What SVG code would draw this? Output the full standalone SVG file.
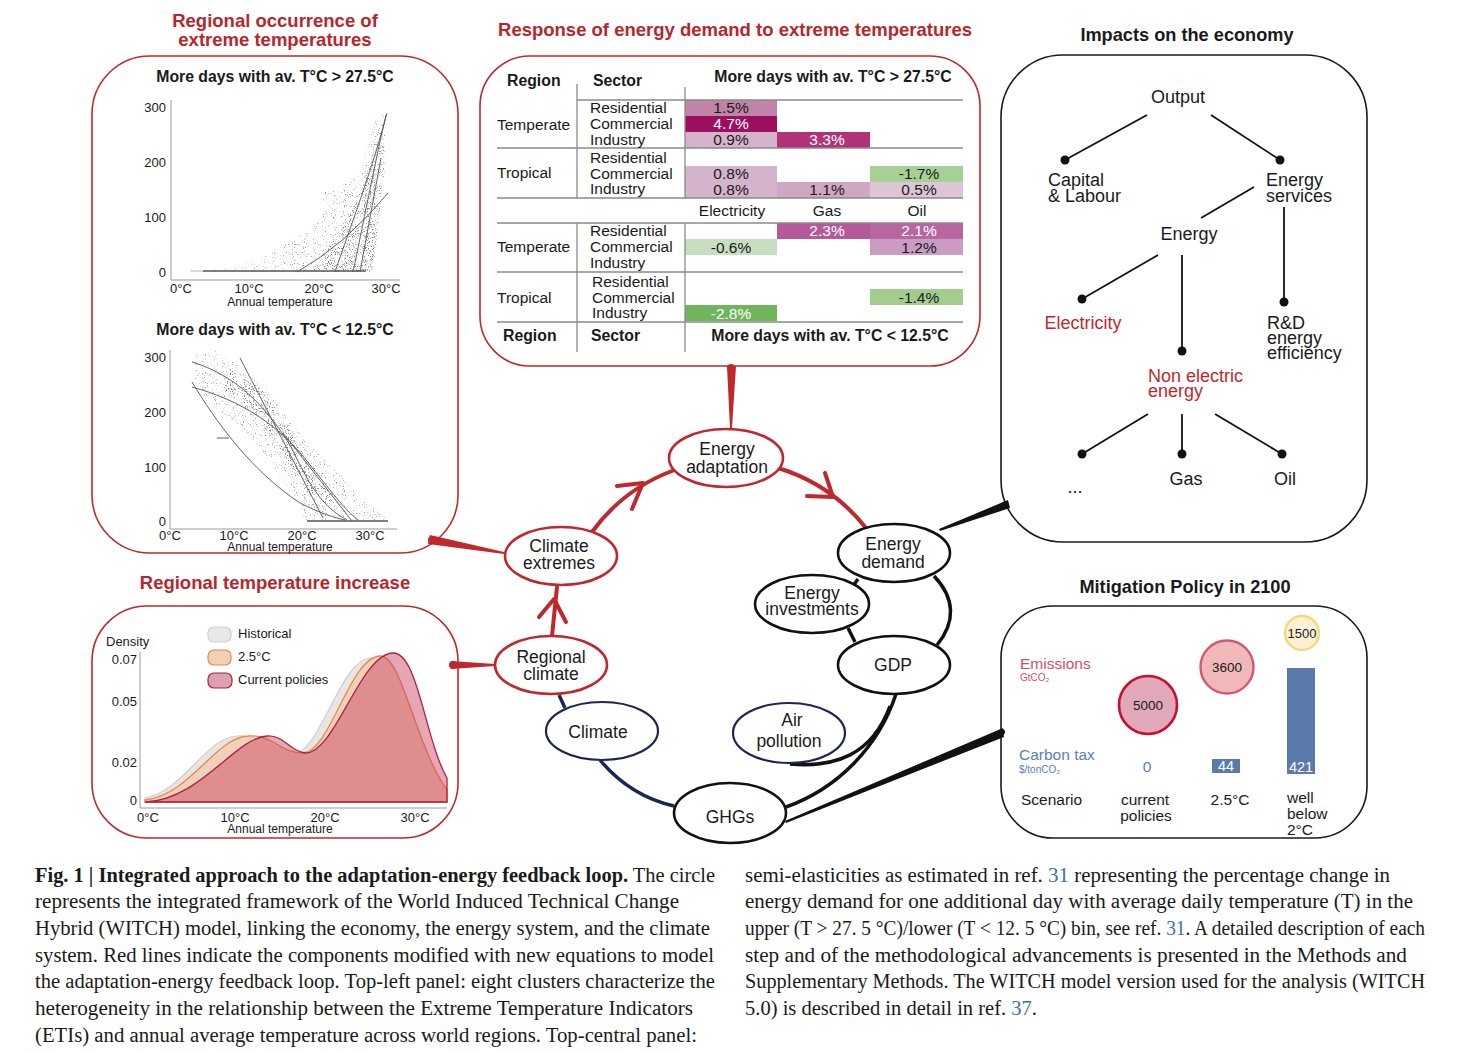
<svg xmlns="http://www.w3.org/2000/svg" width="1460" height="1053" viewBox="0 0 1460 1053">
<defs>
<style>
text{font-family:"Liberation Sans",Arial,sans-serif;fill:#1a1a1a}
.ttl{font-weight:bold;font-size:18.5px;fill:#b8262b;text-anchor:middle}
.ttlk{font-weight:bold;font-size:18.2px;text-anchor:middle}
.hd{font-weight:bold;font-size:15.8px}
.tk{font-size:13px}
.at{font-size:12px;text-anchor:middle}
.tb{font-size:15.5px}
.c{text-anchor:middle}
.w{fill:#fff}
.nd{font-size:17.5px;text-anchor:middle}
.ec{font-size:18px}
.rd{fill:#c0282d}
.cap{font-family:"Liberation Serif","Times New Roman",serif;font-size:20px}
.ref{fill:#3b6fb0}
.pr{fill:none;stroke:#c0282d;stroke-width:1.6}
.pk{fill:none;stroke:#1a1a1a;stroke-width:1.6}
.eR{fill:#fff;stroke:#c0282d;stroke-width:2.6}
.eK{fill:#fff;stroke:#111;stroke-width:2.6}
.eN{fill:#fff;stroke:#1c2656;stroke-width:2.2}
.cr{fill:none;stroke:#c0282d;stroke-width:4;stroke-linecap:round;stroke-linejoin:round}
.ck{fill:none;stroke:#111;stroke-width:3.5}
.cn{fill:none;stroke:#1c2656;stroke-width:3.5}
.ax{stroke:#9a9a9a;stroke-width:1;fill:none}
.fit{fill:none;stroke:#555;stroke-width:0.9}
.tl{stroke:#8a8a8a;stroke-width:1.3}
.tr{stroke:#111;stroke-width:1.8}
.cloud{fill:#000;filter:url(#speck)}
.cloud2{fill:#000;filter:url(#speck2)}
</style>
<filter id="speck" x="0" y="0" width="100%" height="100%" color-interpolation-filters="sRGB">
<feTurbulence type="fractalNoise" baseFrequency="0.9" numOctaves="1" seed="7" result="n"/>
<feColorMatrix in="n" type="matrix" values="0 0 0 0 0.6  0 0 0 0 0.6  0 0 0 0 0.6  8 0 0 0 -4.9" result="d"/>
<feComposite in="d" in2="SourceGraphic" operator="in"/>
</filter>
<filter id="speck2" x="0" y="0" width="100%" height="100%" color-interpolation-filters="sRGB">
<feTurbulence type="fractalNoise" baseFrequency="0.95" numOctaves="1" seed="19" result="n"/>
<feColorMatrix in="n" type="matrix" values="0 0 0 0 0.5  0 0 0 0 0.5  0 0 0 0 0.5  8 0 0 0 -4.6" result="d"/>
<feComposite in="d" in2="SourceGraphic" operator="in"/>
</filter>
</defs>
<rect width="1460" height="1053" fill="#fff"/>

<!-- Titles -->
<text class="ttl" x="275" y="27">Regional occurrence of</text>
<text class="ttl" x="275" y="46">extreme temperatures</text>
<text class="ttl" x="735" y="36">Response of energy demand to extreme temperatures</text>
<text class="ttlk" x="1187" y="41">Impacts on the economy</text>
<text class="ttl" x="275" y="589">Regional temperature increase</text>
<text class="ttlk" x="1185" y="593">Mitigation Policy in 2100</text>

<!-- Panel: regional occurrence -->
<g id="panel-occurrence">
<rect class="pr" x="92" y="56" width="366" height="497" rx="58"/>
<text class="hd c" x="275" y="82">More days with av. T°C &gt; 27.5°C</text>
<line class="ax" x1="171" y1="100" x2="171" y2="280"/>
<line class="ax" x1="171" y1="280" x2="400" y2="280"/>
<text class="tk" x="166" y="112" text-anchor="end">300</text>
<text class="tk" x="166" y="167" text-anchor="end">200</text>
<text class="tk" x="166" y="222" text-anchor="end">100</text>
<text class="tk" x="166" y="277" text-anchor="end">0</text>
<text class="tk c" x="181" y="293">0°C</text>
<text class="tk c" x="249" y="293">10°C</text>
<text class="tk c" x="319" y="293">20°C</text>
<text class="tk c" x="386" y="293">30°C</text>
<text class="at" x="280" y="306">Annual temperature</text>
<path class="cloud" d="M200,272 L230,267 260,259 280,249 300,234 318,221 330,205 322,199 326,190 345,184 360,174 368,146 375,118 383,112 387,140 383,190 377,240 373,272 Z"/>
<path class="cloud2" d="M310,272 L325,250 340,232 352,210 362,190 372,155 381,120 385,160 379,220 372,272 Z"/>
<line x1="203" y1="271" x2="366" y2="271" stroke="#555" stroke-width="2.2" opacity="0.75"/>
<line x1="190" y1="271" x2="203" y2="271" stroke="#999" stroke-width="1" opacity="0.7"/>
<path class="fit" d="M297,272 Q345,245 388,193"/>
<path class="fit" d="M335,272 C350,228 372,170 387,113"/>
<path class="fit" d="M353,272 C362,230 375,162 386,115"/>
<path class="fit" d="M360,272 L381,158"/>

<text class="hd c" x="275" y="335">More days with av. T°C &lt; 12.5°C</text>
<line class="ax" x1="170" y1="350" x2="170" y2="529"/>
<line class="ax" x1="170" y1="529" x2="397" y2="529"/>
<text class="tk" x="166" y="362" text-anchor="end">300</text>
<text class="tk" x="166" y="417" text-anchor="end">200</text>
<text class="tk" x="166" y="472" text-anchor="end">100</text>
<text class="tk" x="166" y="526" text-anchor="end">0</text>
<text class="tk c" x="170" y="540">0°C</text>
<text class="tk c" x="234" y="540">10°C</text>
<text class="tk c" x="302" y="540">20°C</text>
<text class="tk c" x="370" y="540">30°C</text>
<text class="at" x="280" y="551">Annual temperature</text>
<path class="cloud" d="M195,355 L215,350 235,363 255,378 270,394 290,420 305,440 325,460 345,480 362,500 380,512 390,520 305,522 300,505 290,490 275,470 262,450 245,430 225,415 205,400 195,385 Z"/>
<path class="cloud2" d="M230,368 L262,390 285,422 300,448 318,475 335,500 318,506 300,482 285,456 268,432 245,407 225,390 Z"/>
<line x1="307" y1="521" x2="388" y2="521" stroke="#555" stroke-width="2" opacity="0.75"/>
<line x1="217" y1="438" x2="229" y2="438" stroke="#777" stroke-width="1.2"/>
<path class="fit" d="M192,362 C235,375 265,405 290,445 C305,475 318,505 347,520"/>
<path class="fit" d="M192,387 C240,400 280,425 310,465 C330,490 345,510 358,520"/>
<path class="fit" d="M192,382 C215,420 250,470 300,503 C320,513 335,518 345,520"/>
<path class="fit" d="M240,358 L323,518"/>
<path class="fit" d="M283,433 L352,521"/>
</g>

<!-- Panel: response table -->
<g id="panel-response">
<rect class="pr" x="480" y="56" width="500" height="310" rx="50"/>
<text class="hd" x="507" y="86">Region</text>
<text class="hd" x="593" y="86">Sector</text>
<text class="hd c" x="833" y="82">More days with av. T°C &gt; 27.5°C</text>
<rect x="685" y="100" width="92" height="16" fill="#c084a8"/>
<rect x="685" y="116" width="92" height="16" fill="#9c0f5f"/>
<rect x="685" y="132" width="92" height="16" fill="#d6b3cb"/>
<rect x="777" y="132" width="93" height="16" fill="#b0337a"/>
<rect x="685" y="166" width="92" height="16" fill="#d4b4cc"/>
<rect x="685" y="182" width="92" height="16" fill="#d4b4cc"/>
<rect x="777" y="182" width="93" height="16" fill="#cfa6c4"/>
<rect x="870" y="166" width="93" height="16" fill="#a6d094"/>
<rect x="870" y="182" width="93" height="16" fill="#ddc5d7"/>
<rect x="777" y="223" width="93" height="16" fill="#b5599a"/>
<rect x="870" y="223" width="93" height="16" fill="#b8669f"/>
<rect x="685" y="239" width="92" height="16" fill="#c7dfc0"/>
<rect x="870" y="239" width="93" height="16" fill="#c99cc1"/>
<rect x="870" y="289" width="93" height="16" fill="#a2cd8f"/>
<rect x="685" y="305" width="92" height="16" fill="#6eb55b"/>
<g class="tl">
<line x1="577" y1="100" x2="963" y2="100"/>
<line x1="497" y1="148" x2="963" y2="148"/>
<line x1="497" y1="198" x2="963" y2="198"/>
<line x1="497" y1="223" x2="963" y2="223"/>
<line x1="497" y1="272" x2="963" y2="272"/>
<line x1="497" y1="322" x2="963" y2="322"/>
<line x1="577" y1="84" x2="577" y2="198"/>
<line x1="685" y1="87" x2="685" y2="198"/>
<line x1="577" y1="223" x2="577" y2="352"/>
<line x1="685" y1="223" x2="685" y2="352"/>
</g>
<text class="tb" x="497" y="130">Temperate</text>
<text class="tb" x="590" y="113">Residential</text>
<text class="tb" x="590" y="129">Commercial</text>
<text class="tb" x="590" y="145">Industry</text>
<text class="tb c" x="731" y="113">1.5%</text>
<text class="tb c w" x="731" y="129">4.7%</text>
<text class="tb c" x="731" y="145">0.9%</text>
<text class="tb c w" x="827" y="145">3.3%</text>
<text class="tb" x="497" y="178">Tropical</text>
<text class="tb" x="590" y="163">Residential</text>
<text class="tb" x="590" y="179">Commercial</text>
<text class="tb" x="590" y="194">Industry</text>
<text class="tb c" x="731" y="179">0.8%</text>
<text class="tb c" x="731" y="195">0.8%</text>
<text class="tb c" x="827" y="195">1.1%</text>
<text class="tb c" x="919" y="179">-1.7%</text>
<text class="tb c" x="919" y="195">0.5%</text>
<text class="tb c" x="732" y="216">Electricity</text>
<text class="tb c" x="827" y="216">Gas</text>
<text class="tb c" x="917" y="216">Oil</text>
<text class="tb" x="497" y="252">Temperate</text>
<text class="tb" x="590" y="236">Residential</text>
<text class="tb" x="590" y="252">Commercial</text>
<text class="tb" x="590" y="268">Industry</text>
<text class="tb c w" x="827" y="236">2.3%</text>
<text class="tb c w" x="919" y="236">2.1%</text>
<text class="tb c" x="731" y="253">-0.6%</text>
<text class="tb c" x="919" y="253">1.2%</text>
<text class="tb" x="497" y="303">Tropical</text>
<text class="tb" x="592" y="287">Residential</text>
<text class="tb" x="592" y="303">Commercial</text>
<text class="tb" x="592" y="318">Industry</text>
<text class="tb c" x="919" y="303">-1.4%</text>
<text class="tb c w" x="731" y="319">-2.8%</text>
<text class="hd" x="503" y="341">Region</text>
<text class="hd" x="591" y="341">Sector</text>
<text class="hd c" x="830" y="341">More days with av. T°C &lt; 12.5°C</text>
</g>

<!-- Panel: impacts on economy -->
<g id="panel-economy">
<rect class="pk" x="1001" y="55" width="366" height="487" rx="62"/>
<g class="tr">
<line x1="1147" y1="115" x2="1065" y2="160"/>
<line x1="1211" y1="115" x2="1280" y2="160"/>
<line x1="1254" y1="187" x2="1201" y2="218"/>
<line x1="1158" y1="255" x2="1082" y2="299"/>
<line x1="1182" y1="255" x2="1182" y2="351"/>
<line x1="1284" y1="207" x2="1284" y2="302"/>
<line x1="1148" y1="414" x2="1082" y2="454"/>
<line x1="1182" y1="414" x2="1182" y2="454"/>
<line x1="1215" y1="414" x2="1282" y2="454"/>
</g>
<g fill="#111">
<circle cx="1065" cy="160" r="4.5"/><circle cx="1280" cy="160" r="4.5"/>
<circle cx="1082" cy="299" r="4.5"/><circle cx="1182" cy="351" r="4.5"/><circle cx="1284" cy="302" r="4.5"/>
<circle cx="1082" cy="454" r="4.5"/><circle cx="1182" cy="454" r="4.5"/><circle cx="1282" cy="454" r="4.5"/>
</g>
<text class="ec c" x="1178" y="103">Output</text>
<text class="ec" x="1048" y="186">Capital</text>
<text class="ec" x="1048" y="202">&amp; Labour</text>
<text class="ec" x="1266" y="186">Energy</text>
<text class="ec" x="1266" y="202">services</text>
<text class="ec c" x="1189" y="240">Energy</text>
<text class="ec c rd" x="1083" y="329">Electricity</text>
<text class="ec" x="1267" y="329">R&amp;D</text>
<text class="ec" x="1267" y="344">energy</text>
<text class="ec" x="1267" y="359">efficiency</text>
<text class="ec rd" x="1148" y="382">Non electric</text>
<text class="ec rd" x="1148" y="397">energy</text>
<text class="ec c" x="1075" y="493">...</text>
<text class="ec c" x="1186" y="485">Gas</text>
<text class="ec c" x="1285" y="485">Oil</text>
</g>

<!-- Panel: regional temperature increase -->
<g id="panel-density">
<rect class="pr" x="92" y="606" width="366" height="232" rx="55"/>
<text class="tk" x="106" y="646">Density</text>
<text class="tk" x="137" y="664" text-anchor="end">0.07</text>
<text class="tk" x="137" y="706" text-anchor="end">0.05</text>
<text class="tk" x="137" y="767" text-anchor="end">0.02</text>
<text class="tk" x="137" y="805" text-anchor="end">0</text>
<line class="ax" x1="140" y1="652" x2="140" y2="808"/>
<line class="ax" x1="140" y1="808" x2="447" y2="808"/>
<path d="M145,798 C185,790 205,738 237,736 C262,734 270,756 292,755 C320,754 340,660 370,658 C395,656 405,760 447,798 L447,802 L145,802 Z" fill="#e8e6e4" stroke="#cfcfcf" stroke-width="1.2"/>
<path d="M145,800 C190,795 215,738 248,736 C272,734 282,754 303,753 C330,752 350,657 380,656 C402,655 415,745 447,790 L447,802 L145,802 Z" fill="#f1cfb5" fill-opacity="0.9" stroke="#e8894a" stroke-width="1.3"/>
<path d="M145,802 C200,800 235,738 267,736 C285,735 290,752 305,753 C335,754 360,654 393,653 C418,652 425,740 447,778 L447,802 Z" fill="#c83c5a" fill-opacity="0.45" stroke="#b0203f" stroke-width="1.3"/>
<text class="tk c" x="148" y="822">0°C</text>
<text class="tk c" x="235" y="822">10°C</text>
<text class="tk c" x="325" y="822">20°C</text>
<text class="tk c" x="415" y="822">30°C</text>
<text class="at" x="280" y="833">Annual temperature</text>
<rect x="208" y="627" width="23" height="15" rx="6" fill="#e8e8e8" stroke="#cfcfcf" stroke-width="1.2"/>
<rect x="208" y="650" width="23" height="15" rx="6" fill="#f3cfb3" stroke="#e8894a" stroke-width="1.2"/>
<rect x="208" y="673" width="24" height="15" rx="6" fill="#dba0b2" stroke="#b0203f" stroke-width="1.2"/>
<text class="tk" x="238" y="638">Historical</text>
<text class="tk" x="238" y="661">2.5°C</text>
<text class="tk" x="238" y="684">Current policies</text>
</g>

<!-- Panel: mitigation -->
<g id="panel-mitigation">
<rect class="pk" x="1001" y="606" width="366" height="232" rx="52"/>
<text x="1020" y="669" font-size="15.5" style="fill:#d0506c">Emissions</text>
<text x="1020" y="681" font-size="10" style="fill:#d0506c">GtCO₂</text>
<text x="1019" y="760" font-size="15.5" style="fill:#5a80b8">Carbon tax</text>
<text x="1019" y="773" font-size="10" style="fill:#5a80b8">$/tonCO₂</text>
<circle cx="1148" cy="705" r="29" fill="#e0a8b8" stroke="#c8102e" stroke-width="2.6"/>
<circle cx="1227" cy="667" r="26.5" fill="#f0b8b8" stroke="#d05870" stroke-width="2.4"/>
<circle cx="1302" cy="633" r="17" fill="#fdf0d4" stroke="#f5d878" stroke-width="2.4"/>
<text class="c" x="1148" y="710" font-size="13.5">5000</text>
<text class="c" x="1227" y="672" font-size="13.5">3600</text>
<text class="c" x="1302" y="638" font-size="13">1500</text>
<rect x="1212" y="759" width="28" height="14" fill="#5a7aaa"/>
<rect x="1287" y="668" width="28" height="106" fill="#5a7aaa"/>
<text class="c" x="1147" y="772" font-size="15.5" style="fill:#5a80b8">0</text>
<text class="c w" x="1226" y="771" font-size="14.5">44</text>
<text class="c w" x="1301" y="772" font-size="14.5">421</text>
<text x="1021" y="805" font-size="15.5">Scenario</text>
<text class="c" x="1145" y="805" font-size="15.5">current</text>
<text class="c" x="1146" y="821" font-size="15.5">policies</text>
<text class="c" x="1230" y="805" font-size="15.5">2.5°C</text>
<text x="1287" y="803" font-size="15.5">well</text>
<text x="1287" y="819" font-size="15.5">below</text>
<text x="1287" y="835" font-size="15.5">2°C</text>
</g>

<!-- Connectors -->
<g id="connectors">
<path class="cr" d="M592,532 A175,175 0 0,1 672,471"/>
<path class="cr" d="M617,486 L643,483 L632,509"/>
<path class="cr" d="M778,468 A178,178 0 0,1 866,528"/>
<path class="cr" d="M807,496 L833,497 L825,473"/>
<path class="cr" d="M552,636 L557,587"/>
<path class="cr" d="M539,617 L554,599 L566,622"/>
<path class="cn" d="M559,695 L565,708"/>
<path class="cn" d="M600,760 Q630,796 674,806"/>
<path class="ck" d="M786,807 A180,180 0 0,0 896,694"/>
<path class="ck" d="M790,764 C835,768 872,755 890,706"/>
<path class="ck" d="M934,576 C955,598 956,622 937,645"/>
<path class="ck" d="M858,579 L853,586"/>
<path class="ck" d="M848,628 L855,642"/>
<polygon points="727,366 736,366 732,428 730,428" fill="#c0282d"/>
<circle cx="731" cy="368" r="4" fill="#c0282d"/>
<polygon points="430,535 504,552 504,554 428,544" fill="#c0282d"/>
<circle cx="432" cy="540" r="4" fill="#c0282d"/>
<polygon points="451,661 495,664 495,666 451,669" fill="#c0282d"/>
<circle cx="453" cy="665" r="4" fill="#c0282d"/>
<polygon points="1008,500 1010,508 940,531 939,529" fill="#111"/>
<circle cx="1005" cy="505" r="3.5" fill="#111"/>
<polygon points="1003,728 1004,737 786,823 785,821" fill="#111"/>
<circle cx="1002" cy="732" r="3" fill="#111"/>
</g>

<!-- Nodes -->
<g id="node-energy-adaptation"><ellipse class="eR" cx="726" cy="458" rx="57" ry="29"/><text class="nd" x="727" y="455">Energy</text><text class="nd" x="727" y="473">adaptation</text></g>
<g id="node-climate-extremes"><ellipse class="eR" cx="561" cy="556" rx="56" ry="29"/><text class="nd" x="559" y="552">Climate</text><text class="nd" x="559" y="569">extremes</text></g>
<g id="node-regional-climate"><ellipse class="eR" cx="551" cy="665" rx="56" ry="29"/><text class="nd" x="551" y="663">Regional</text><text class="nd" x="551" y="680">climate</text></g>
<g id="node-climate"><ellipse class="eN" cx="602" cy="731" rx="56" ry="29"/><text class="nd" x="598" y="738">Climate</text></g>
<g id="node-ghgs"><ellipse class="eK" cx="730" cy="813" rx="56" ry="30"/><text class="nd" x="730" y="823">GHGs</text></g>
<g id="node-air-pollution"><ellipse class="eN" cx="789" cy="733" rx="56" ry="30"/><text class="nd" x="792" y="726">Air</text><text class="nd" x="789" y="747">pollution</text></g>
<g id="node-gdp"><ellipse class="eK" cx="894" cy="665" rx="56" ry="29"/><text class="nd" x="893" y="671">GDP</text></g>
<g id="node-energy-investments"><ellipse class="eK" cx="812" cy="604" rx="57" ry="29"/><text class="nd" x="812" y="599">Energy</text><text class="nd" x="812" y="615">investments</text></g>
<g id="node-energy-demand"><ellipse class="eK" cx="894" cy="553" rx="56" ry="29"/><text class="nd" x="893" y="550">Energy</text><text class="nd" x="893" y="568">demand</text></g>

<!-- Caption -->
<g id="caption">
<text class="cap" x="35" y="882" textLength="680" lengthAdjust="spacingAndGlyphs"><tspan font-weight="bold">Fig. 1 | Integrated approach to the adaptation-energy feedback loop.</tspan> The circle</text>
<text class="cap" x="35" y="908" textLength="644" lengthAdjust="spacingAndGlyphs">represents the integrated framework of the World Induced Technical Change</text>
<text class="cap" x="35" y="935" textLength="675" lengthAdjust="spacingAndGlyphs">Hybrid (WITCH) model, linking the economy, the energy system, and the climate</text>
<text class="cap" x="35" y="962" textLength="679" lengthAdjust="spacingAndGlyphs">system. Red lines indicate the components modified with new equations to model</text>
<text class="cap" x="35" y="988" textLength="680" lengthAdjust="spacingAndGlyphs">the adaptation-energy feedback loop. Top-left panel: eight clusters characterize the</text>
<text class="cap" x="35" y="1015" textLength="658" lengthAdjust="spacingAndGlyphs">heterogeneity in the relationship between the Extreme Temperature Indicators</text>
<text class="cap" x="35" y="1042" textLength="662" lengthAdjust="spacingAndGlyphs">(ETIs) and annual average temperature across world regions. Top-central panel:</text>
<text class="cap" x="745" y="882" textLength="645" lengthAdjust="spacingAndGlyphs">semi-elasticities as estimated in ref. <tspan class="ref">31</tspan> representing the percentage change in</text>
<text class="cap" x="745" y="908" textLength="668" lengthAdjust="spacingAndGlyphs">energy demand for one additional day with average daily temperature (T) in the</text>
<text class="cap" x="745" y="935" textLength="680" lengthAdjust="spacingAndGlyphs">upper (T &gt; 27. 5 °C)/lower (T &lt; 12. 5 °C) bin, see ref. <tspan class="ref">31</tspan>. A detailed description of each</text>
<text class="cap" x="745" y="962" textLength="662" lengthAdjust="spacingAndGlyphs">step and of the methodological advancements is presented in the Methods and</text>
<text class="cap" x="745" y="988" textLength="680" lengthAdjust="spacingAndGlyphs">Supplementary Methods. The WITCH model version used for the analysis (WITCH</text>
<text class="cap" x="745" y="1015" textLength="292" lengthAdjust="spacingAndGlyphs">5.0) is described in detail in ref. <tspan class="ref">37</tspan>.</text>
</g>
</svg>
